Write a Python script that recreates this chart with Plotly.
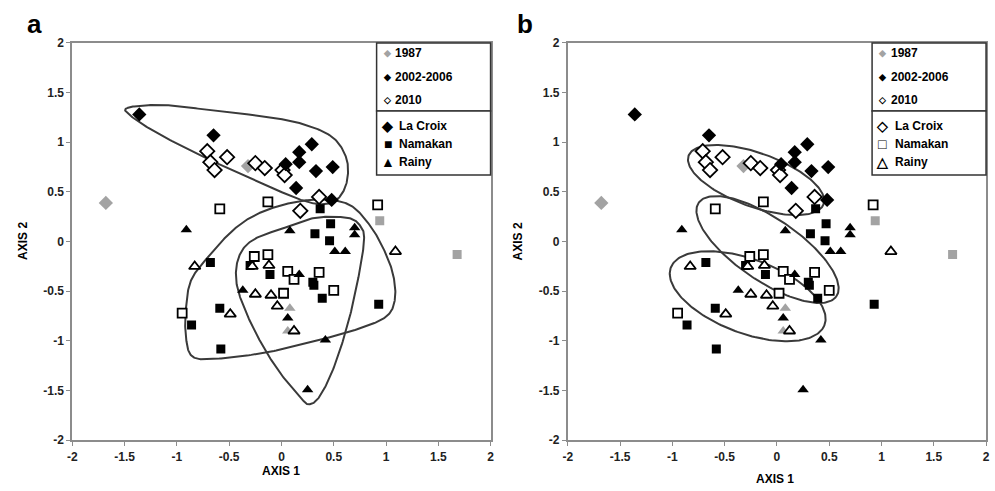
import numpy as np
import plotly.graph_objects as go

# ---------------- data (AXIS 1, AXIS 2) ----------------
lacroix_1987_x = [-1.68, -0.32]
lacroix_1987_y = [0.39, 0.76]
lacroix_0206_x = [-1.36, -0.65, 0.29, 0.17, 0.17, 0.04, 0.33, 0.49, 0.14, 0.48]
lacroix_0206_y = [1.28, 1.07, 0.98, 0.90, 0.80, 0.78, 0.71, 0.75, 0.54, 0.42]
lacroix_2010_x = [-0.71, -0.52, -0.68, -0.64, -0.25, -0.16, 0.01, 0.03, 0.36, 0.18]
lacroix_2010_y = [0.91, 0.85, 0.80, 0.72, 0.79, 0.74, 0.72, 0.67, 0.45, 0.31]

namakan_1987_x = [0.94, 1.68]
namakan_1987_y = [0.21, -0.13]
namakan_0206_x = [0.37, 0.47, 0.32, 0.46, -0.68, -0.30, -0.11, 0.30, 0.31, 0.39, 0.93, -0.59, -0.86, -0.58]
namakan_0206_y = [0.33, 0.18, 0.08, 0.01, -0.21, -0.24, -0.33, -0.41, -0.44, -0.57, -0.63, -0.67, -0.84, -1.08]
namakan_2010_x = [-0.59, -0.13, 0.92, -0.26, -0.13, 0.06, 0.12, 0.36, 0.50, 0.02, -0.95]
namakan_2010_y = [0.33, 0.40, 0.37, -0.15, -0.13, -0.30, -0.38, -0.31, -0.49, -0.52, -0.72]

rainy_1987_x = [0.08, 0.06]
rainy_1987_y = [-0.67, -0.90]
rainy_0206_x = [-0.91, 0.08, 0.70, 0.70, 0.51, 0.61, 0.17, -0.37, 0.06, 0.42, 0.25]
rainy_0206_y = [0.12, 0.11, 0.14, 0.07, -0.10, -0.10, -0.33, -0.49, -0.77, -0.99, -1.49]
rainy_2010_x = [-0.83, -0.28, -0.12, -0.25, -0.10, -0.04, -0.49, 0.12, 1.09]
rainy_2010_y = [-0.25, -0.25, -0.24, -0.53, -0.54, -0.65, -0.73, -0.90, -0.10]

# hand-drawn group outlines, panel a (control points)
hull_a_lacroix_x = [-1.476, -1.133, -0.657, -0.181, 0.200, 0.486, 0.619, 0.629, 0.552, 0.410, 0.200, -0.181, -0.657, -1.133, -1.419]
hull_a_lacroix_y = [1.345, 1.375, 1.320, 1.262, 1.185, 1.052, 0.846, 0.621, 0.445, 0.377, 0.416, 0.582, 0.807, 1.061, 1.247]
hull_a_namakan_x = [0.076, 0.390, 0.657, 0.848, 0.981, 1.067, 1.086, 1.010, 0.771, 0.390, -0.114, -0.610, -0.848, -0.914, -0.914, -0.867, -0.724, -0.467, -0.229]
hull_a_namakan_y = [0.386, 0.425, 0.367, 0.161, -0.083, -0.328, -0.572, -0.748, -0.866, -0.983, -1.110, -1.178, -1.159, -0.963, -0.670, -0.396, -0.181, 0.112, 0.279]
hull_a_rainy_x = [0.038, 0.324, 0.629, 0.752, 0.790, 0.733, 0.638, 0.505, 0.371, 0.267, 0.181, 0.010, -0.162, -0.324, -0.429, -0.410, -0.276]
hull_a_rainy_y = [0.142, 0.240, 0.240, 0.161, 0.015, -0.377, -0.817, -1.257, -1.550, -1.638, -1.570, -1.355, -1.081, -0.748, -0.425, -0.161, 0.015]

# ellipses, panel b: centre x, centre y, semi-major, semi-minor, angle (deg)
ell_b_lacroix = [-0.20, 0.62, 0.69, 0.27, -21]
ell_b_namakan = [-0.09, -0.08, 0.81, 0.31, -36]
ell_b_rainy = [-0.28, -0.55, 0.79, 0.37, -22]

ticks = [-2, -1.5, -1, -0.5, 0, 0.5, 1, 1.5, 2]
tick_text = ["-2", "-1.5", "-1", "-0.5", "0", "0.5", "1", "1.5", "2"]

# ---------------- helpers ----------------
def closed_spline(xs, ys, n=24):
    P = np.column_stack([xs, ys]).astype(float)
    N = len(P)
    t = np.linspace(0, 1, n, endpoint=False)[:, None]
    out = []
    for i in range(N):
        p0, p1, p2, p3 = P[(i - 1) % N], P[i], P[(i + 1) % N], P[(i + 2) % N]
        pts = 0.5 * ((2 * p1) + (-p0 + p2) * t + (2 * p0 - 5 * p1 + 4 * p2 - p3) * t ** 2
                     + (-p0 + 3 * p1 - 3 * p2 + p3) * t ** 3)
        out.append(pts)
    out.append(P[:1])
    out = np.vstack(out)
    return out[:, 0], out[:, 1]


def ellipse(params, n=200):
    cx, cy, a, b, ang = params
    th = np.linspace(0, 2 * np.pi, n)
    r = np.deg2rad(ang)
    x = cx + a * np.cos(th) * np.cos(r) - b * np.sin(th) * np.sin(r)
    y = cy + a * np.cos(th) * np.sin(r) + b * np.sin(th) * np.cos(r)
    return x, y


W, H = 995, 491
def px(x):
    return x / W
def py(y):
    return 1 - y / H

GRAY = "#a3a3a3"
OUT = "#3a3a3a"
FONT = "Liberation Sans"

groups = [
    ("diamond", 11,
     (lacroix_1987_x, lacroix_1987_y), (lacroix_0206_x, lacroix_0206_y), (lacroix_2010_x, lacroix_2010_y)),
    ("square", 9,
     (namakan_1987_x, namakan_1987_y), (namakan_0206_x, namakan_0206_y), (namakan_2010_x, namakan_2010_y)),
    ("triangle-up", 10,
     (rainy_1987_x, rainy_1987_y), (rainy_0206_x, rainy_0206_y), (rainy_2010_x, rainy_2010_y)),
]

fig = go.Figure()

for ax in ["", "2"]:
    xa, ya = "x" + ax, "y" + ax
    if ax == "":
        shapes = [closed_spline(hull_a_lacroix_x, hull_a_lacroix_y),
                  closed_spline(hull_a_namakan_x, hull_a_namakan_y),
                  closed_spline(hull_a_rainy_x, hull_a_rainy_y)]
    else:
        shapes = [ellipse(ell_b_lacroix), ellipse(ell_b_namakan), ellipse(ell_b_rainy)]
    for sx, sy in shapes:
        fig.add_trace(go.Scatter(x=sx, y=sy, mode="lines", xaxis=xa, yaxis=ya,
                                 line=dict(color=OUT, width=2), hoverinfo="skip", showlegend=False))
    for sym, size, g87, g02, g10 in groups:
        fig.add_trace(go.Scatter(x=g87[0], y=g87[1], mode="markers", xaxis=xa, yaxis=ya,
                                 marker=dict(symbol=sym, size=size, color=GRAY, line=dict(width=0)),
                                 showlegend=False))
        fig.add_trace(go.Scatter(x=g10[0], y=g10[1], mode="markers", xaxis=xa, yaxis=ya,
                                 marker=dict(symbol=sym, size=size, color="white",
                                             line=dict(width=1.8, color="black")),
                                 showlegend=False))
        fig.add_trace(go.Scatter(x=g02[0], y=g02[1], mode="markers", xaxis=xa, yaxis=ya,
                                 marker=dict(symbol=sym, size=size, color="black", line=dict(width=0)),
                                 showlegend=False))

axis_common = dict(range=[-2, 2], tickvals=ticks, ticktext=tick_text, showgrid=False, zeroline=False,
                   showline=True, linecolor="#8c8c8c", linewidth=2, mirror=True,
                   ticks="outside", ticklen=4, tickcolor="#8c8c8c", tickwidth=1,
                   tickfont=dict(family=FONT, size=12, color="#222222", weight="bold"))

y_dom = [1 - 446 / H, 1 - 37 / H]
fig.update_layout(
    width=W, height=H, margin=dict(l=0, r=0, t=0, b=0),
    paper_bgcolor="white", plot_bgcolor="white", showlegend=False,
    xaxis=dict(domain=[68 / W, 490 / W], anchor="y", **axis_common),
    yaxis=dict(domain=y_dom, anchor="x", **axis_common),
    xaxis2=dict(domain=[568 / W, 990 / W], anchor="y2", **axis_common),
    yaxis2=dict(domain=y_dom, anchor="x2", **axis_common),
)

ann = []
shp = []
def text(x, y, s, size=12, color="black", anchor="left", angle=0, bold=True):
    ann.append(dict(x=px(x), y=py(y), xref="paper", yref="paper", text=s, showarrow=False,
                    xanchor=anchor, yanchor="middle", textangle=angle,
                    font=dict(family=FONT, size=size, color=color, weight="bold" if bold else "normal")))

for off, letter, open_keys in [(0, "a", False), (500, "b", True)]:
    shp.append(dict(type="rect", xref="paper", yref="paper", x0=px(375 + off), x1=px(490 + off),
                    y0=py(107), y1=py(37), line=dict(color="#333333", width=1.5), fillcolor="white"))
    shp.append(dict(type="rect", xref="paper", yref="paper", x0=px(375 + off), x1=px(490 + off),
                    y0=py(173), y1=py(107), line=dict(color="#333333", width=1.5), fillcolor="white"))
    text(386 + off, 47, "◆", size=9, color=GRAY, anchor="center")
    text(392 + off, 47, "1987")
    text(386 + off, 72, "◆", size=9, anchor="center")
    text(392 + off, 72, "2002-2006")
    text(386 + off, 96, "◇", size=9, anchor="center")
    text(392 + off, 96, "2010")
    lake_syms = ["◇", "□", "△"] if open_keys else ["◆", "■", "▲"]
    for s, lab, yy in zip(lake_syms, ["La Croix", "Namakan", "Rainy"], [122, 141, 160]):
        text(386 + off, yy, s, size=14, anchor="center")
        text(396 + off, yy, lab)
    text(20 + off * 0.99, 17, letter, size=26)
    text(279 + off * 0.996, 478 + (8 if open_keys else 0), "AXIS 1", anchor="center")
    text(18 + off, 241, "AXIS 2", anchor="center", angle=-90)

fig.update_layout(annotations=ann, shapes=shp)
fig.write_html("out.html")
